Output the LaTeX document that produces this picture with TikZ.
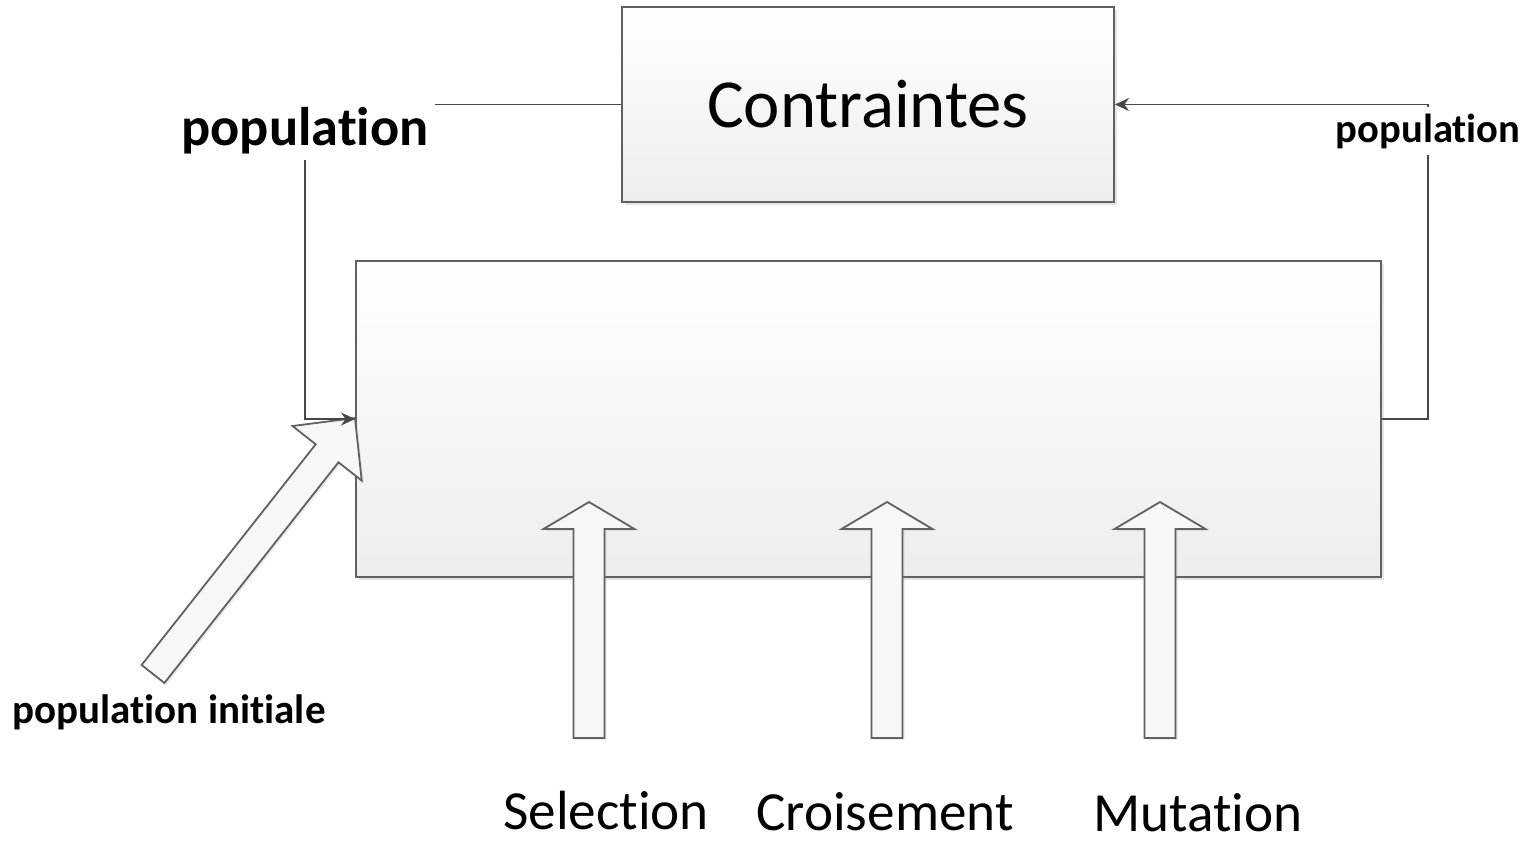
\documentclass[tikz,border=0pt]{standalone}
\usepackage{fontspec}
\setmainfont{Carlito}[Ligatures=NoCommon]
\usetikzlibrary{arrows.meta,shadows}
\begin{document}
\begin{tikzpicture}[x=0.5pt,y=-0.5pt,
  boxstyle/.style={draw=black!62,line width=1pt,top color=white,bottom color=black!7,
    drop shadow={shadow xshift=1.5pt,shadow yshift=-1.5pt,opacity=0.25,fill=black!40}},
  conn/.style={draw=black!72,line width=0.8pt},
  tipped/.style={-{Stealth[length=7pt,width=6.5pt]}},
  blockarrow/.style={draw=black!62,line width=0.9pt,fill=black!3,
    drop shadow={shadow xshift=1pt,shadow yshift=-1pt,opacity=0.2,fill=black!40}},
  lbl/.style={inner sep=3pt,anchor=base,text=black},
  blbl/.style={inner sep=0pt,anchor=base,text=black,font=\fontsize{27.6}{32}\selectfont}]
\useasboundingbox (0,0) rectangle (1535,842);
% boxes
\node[boxstyle,minimum width=246pt,minimum height=97.5pt,inner sep=0pt,
  font=\fontsize{34.4}{40}\selectfont] (contr) at (868,104.5) {Contraintes};
\node[boxstyle,minimum width=512.5pt,minimum height=158pt,inner sep=0pt] (main) at (868.5,419) {};
% labels
\node[lbl,font=\bfseries\fontsize{27.2}{32}\selectfont] (llab) at (305,145) {population};
\node[lbl,font=\bfseries\fontsize{20.3}{24}\selectfont] (rlab) at (1428,142) {population};
\node[lbl,font=\bfseries\fontsize{20.5}{24}\selectfont] (ilab) at (169,723) {population initiale};
\node[blbl] (sel) at (606,829) {Selection};
\node[blbl] (cro) at (885,830) {Croisement};
\node[blbl] (mut) at (1198,831) {Mutation};
% vertical block arrows
\foreach \c in {589,887,1160}
  \draw[blockarrow] (\c-15.5,738) -- (\c-15.5,529) -- (\c-45.5,529) -- (\c,502)
    -- (\c+45.5,529) -- (\c+15.5,529) -- (\c+15.5,738) -- cycle;
% diagonal block arrow (population initiale)
\draw[blockarrow] (141.6,665.0) -- (315.7,444.3) -- (292.5,426.0) -- (355,418)
  -- (361.7,480.6) -- (338.5,462.3) -- (164.4,683.0) -- cycle;
% connectors
\draw[conn] (contr.west) -- (contr.west -| llab.east);
\draw[conn,tipped] (llab.south) |- (main.west);
\draw[conn] (main.east) -| (rlab.south);
\draw[conn,tipped] (rlab.north) |- (contr.east);
\end{tikzpicture}
\end{document}
